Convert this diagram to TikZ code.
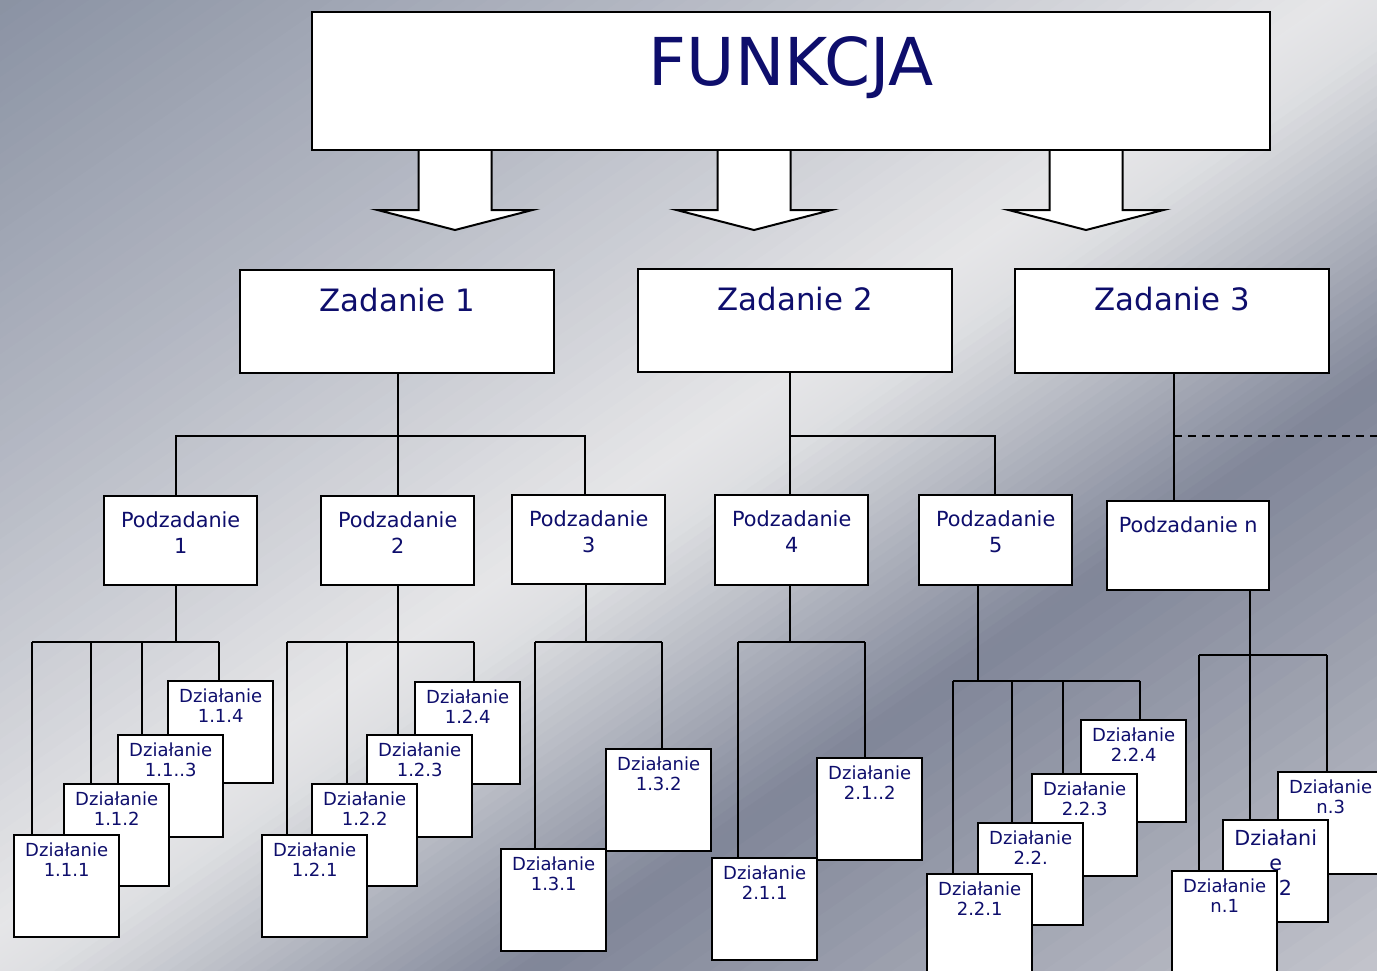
\documentclass[tikz,border=0pt]{standalone}
\usepackage{fontspec}
\setmainfont{DejaVu Sans}
\usetikzlibrary{calc}
\definecolor{navy}{RGB}{14,14,108}
\definecolor{g0}{RGB}{138,146,163}
\definecolor{g1}{RGB}{180,184,195}
\definecolor{g2}{RGB}{230,230,232}
\definecolor{g3}{RGB}{222,223,226}
\definecolor{g4}{RGB}{128,134,152}
\definecolor{g5}{RGB}{200,201,208}
\pgfdeclarelayer{back}
\pgfdeclarelayer{wires}
\pgfsetlayers{back,wires,main}
\tikzset{
  box/.style={draw=black, line width=1.2pt, fill=white, inner sep=0pt, anchor=north west},
  dz/.style={box, minimum width=52.5pt, minimum height=51pt},
  dzl/.style={anchor=north, yshift=-4pt, inner sep=0pt, align=center, text=navy, font=\fontsize{9}{10.2}\selectfont},
  pzl/.style={anchor=north, yshift=-8pt, inner sep=0pt, align=center, text=navy, font=\fontsize{10.4}{13}\selectfont},
  zl/.style={anchor=north, yshift=-9.5pt, inner sep=0pt, text=navy, font=\fontsize{15.4}{18}\selectfont},
  wire/.style={draw=black, line width=1pt},
  barrow/.style={draw=black, fill=white, line width=1pt, line join=miter}
}
\newcommand\dzbox[4]{\node[dz, label={[dzl]north:{#4}}] (#1) at (#2,#3) {};}
\newcommand\pzbox[5]{\node[box, minimum width=76.5pt, minimum height=#4, label={[pzl]north:{#5}}] (#1) at (#2,#3) {};}
\begin{document}
\begin{tikzpicture}[x=0.5pt,y=-0.5pt]
\useasboundingbox (0,0) rectangle (1377,970);
% background gradient
\begin{pgfonlayer}{back}
\begin{scope}
\clip (0,0) rectangle (1377,970);
\fill[g0] (0,0) rectangle (1377,970);
\foreach \ta/\tb/\ca/\cb in {0/380/g0/g1,380/760/g1/g2,760/820/g2/g3,820/1100/g3/g4,1100/1620/g4/g5}{
  \foreach \i in {0,...,29}{
    \pgfmathsetmacro\a{\ta+(\tb-\ta)*\i/30}
    \pgfmathsetmacro\b{\ta+(\tb-\ta)*(\i+1)/30+1.5}
    \pgfmathsetmacro\p{100*(\i+0.5)/30}
    \fill[\cb!\p!\ca] ({0.57*\a-0.82*700},{0.82*\a+0.57*700}) -- ({0.57*\a+0.82*1300},{0.82*\a-0.57*1300}) -- ({0.57*\b+0.82*1300},{0.82*\b-0.57*1300}) -- ({0.57*\b-0.82*700},{0.82*\b+0.57*700}) -- cycle;
  }
}
\end{scope}
\end{pgfonlayer}

% top box
\node[box, minimum width=479pt, minimum height=69pt,
  label={[anchor=north, yshift=-12.5pt, inner sep=0pt, text=navy, font=\fontsize{33}{38}\selectfont]north:FUNKCJA}] (F) at (311,11) {};

% Zadania
\node[box, minimum width=157pt, minimum height=51.5pt, label={[zl]north:Zadanie 1}] (Z1) at (239,269) {};
\node[box, minimum width=157pt, minimum height=51.5pt, label={[zl]north:Zadanie 2}] (Z2) at (637,268) {};
\node[box, minimum width=157pt, minimum height=52pt, label={[zl]north:Zadanie 3}] (Z3) at (1014,268) {};

% Podzadania
\pzbox{P1}{103}{495}{44.5pt}{Podzadanie\\1}
\pzbox{P2}{320}{495}{44.5pt}{Podzadanie\\2}
\pzbox{P3}{511}{494}{44.5pt}{Podzadanie\\3}
\pzbox{P4}{714}{494}{45pt}{Podzadanie\\4}
\pzbox{P5}{918}{494}{45pt}{Podzadanie\\5}
\node[box, minimum width=81pt, minimum height=44.5pt, label={[pzl]north:Podzadanie n}] (Pn) at (1106,500) {};

% Dzialania
\dzbox{D114}{167}{680}{Działanie\\1.1.4}
\dzbox{D113}{117}{734}{Działanie\\1.1..3}
\dzbox{D112}{63}{783}{Działanie\\1.1.2}
\dzbox{D111}{13}{834}{Działanie\\1.1.1}

\dzbox{D124}{414}{681}{Działanie\\1.2.4}
\dzbox{D123}{366}{734}{Działanie\\1.2.3}
\dzbox{D122}{311}{783}{Działanie\\1.2.2}
\dzbox{D121}{261}{834}{Działanie\\1.2.1}

\dzbox{D132}{605}{748}{Działanie\\1.3.2}
\dzbox{D131}{500}{848}{Działanie\\1.3.1}

\dzbox{D212}{816}{757}{Działanie\\2.1..2}
\dzbox{D211}{711}{857}{Działanie\\2.1.1}

\dzbox{D224}{1080}{719}{Działanie\\2.2.4}
\dzbox{D223}{1031}{773}{Działanie\\2.2.3}
\dzbox{D222}{977}{822}{Działanie\\2.2.}
\dzbox{D221}{926}{873}{Działanie\\2.2.1}

\dzbox{Dn3}{1277}{771}{Działanie\\n.3}
\node[dz, label={[dzl, yshift=-1pt, font=\fontsize{10.35}{12.5}\selectfont]north:{Działani\\e\\n.2}}] (Dn2) at (1222,819) {};
\dzbox{Dn1}{1171}{870}{Działanie\\n.1}

\coordinate (dashend) at (1380,436);

% connectors
\begin{pgfonlayer}{wires}
% block arrows from FUNKCJA (behind its border)
\foreach \c in {455,754,1086}
  \filldraw[barrow] (\c-36.5,149) -- (\c-36.5,210) -- (\c-77.5,210) -- (\c,230) -- (\c+77.5,210) -- (\c+36.5,210) -- (\c+36.5,149);
% Zadanie 1
\draw[wire] (Z1.south -| 398,0) -- (P2.north -| 398,0);
\draw[wire] (P1.north -| 176,0) |- (398,436) -| (P3.north -| 585,0);
% Zadanie 2
\draw[wire] (Z2.south -| 790,0) -- (P4.north -| 790,0);
\draw[wire] (790,436) -| (P5.north -| 995,0);
% Zadanie 3
\draw[wire] (Z3.south -| 1174,0) -- (Pn.north -| 1174,0);
\draw[wire, dash pattern=on 4pt off 3pt] (1174,436) -- (dashend);

% Podzadanie 1
\draw[wire] (P1.south -| 176,0) -- (176,642);
\draw[wire] (32,642) -- (219,642);
\foreach \x/\n in {32/D111,91/D112,142/D113,219/D114}
  \draw[wire] (\x,642) -- (\n.north -| \x,0);
% Podzadanie 2
\draw[wire] (P2.south -| 398,0) -- (D123.north -| 398,0);
\draw[wire] (287,642) -- (474,642);
\foreach \x/\n in {287/D121,347/D122,474/D124}
  \draw[wire] (\x,642) -- (\n.north -| \x,0);
% Podzadanie 3
\draw[wire] (P3.south -| 586,0) -- (586,642);
\draw[wire] (535,642) -- (662,642);
\foreach \x/\n in {535/D131,662/D132}
  \draw[wire] (\x,642) -- (\n.north -| \x,0);
% Podzadanie 4
\draw[wire] (P4.south -| 790,0) -- (790,642);
\draw[wire] (738,642) -- (865,642);
\foreach \x/\n in {738/D211,865/D212}
  \draw[wire] (\x,642) -- (\n.north -| \x,0);
% Podzadanie 5
\draw[wire] (P5.south -| 978,0) -- (978,681);
\draw[wire] (953,681) -- (1140,681);
\foreach \x/\n in {953/D221,1012/D222,1063/D223,1140/D224}
  \draw[wire] (\x,681) -- (\n.north -| \x,0);
% Podzadanie n
\draw[wire] (Pn.south -| 1250,0) -- (Dn2.north -| 1250,0);
\draw[wire] (1199,655) -- (1327,655);
\foreach \x/\n in {1199/Dn1,1327/Dn3}
  \draw[wire] (\x,655) -- (\n.north -| \x,0);
\end{pgfonlayer}
\end{tikzpicture}
\end{document}
